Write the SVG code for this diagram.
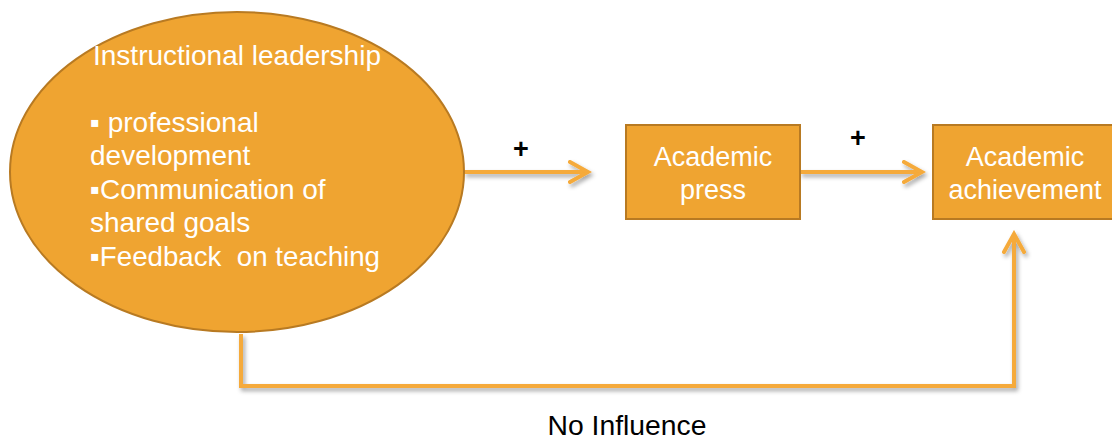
<svg xmlns="http://www.w3.org/2000/svg" width="1112" height="440" viewBox="0 0 1112 440">
  <style>
    .node { fill: #EFA431; stroke: #B87A22; stroke-width: 2; }
    .lbl { font-family: "Liberation Sans", Arial, sans-serif; fill: #FFFFFF; font-size: 27px; white-space: pre; }
    .big { font-size: 28px; }
    .wire { fill: none; stroke: #F5AA3A; stroke-width: 4; stroke-linejoin: miter; }
    .sign { font-family: "Liberation Sans", Arial, sans-serif; font-weight: bold; font-size: 27px; fill: #000; }
    .cap { font-family: "Liberation Sans", Arial, sans-serif; font-size: 27px; fill: #000; }
  </style>
  <defs>
    <marker id="head" viewBox="0 0 12 12" refX="10" refY="6" markerWidth="6" markerHeight="6" markerUnits="strokeWidth" orient="auto">
      <path d="M1,1 L10,6 L1,11" fill="none" stroke="#F5AA3A" stroke-width="2" stroke-linecap="round"/>
    </marker>
    <filter id="shadow" x="-10%" y="-50%" width="120%" height="200%">
      <feDropShadow dx="2" dy="3" stdDeviation="2" flood-color="#000" flood-opacity="0.35"/>
    </filter>
  </defs>

  <g id="connectors" filter="url(#shadow)">
    <path class="wire" d="M464,172 L588,172" marker-end="url(#head)"/>
    <path class="wire" d="M800,172 L922,172" marker-end="url(#head)"/>
    <path class="wire" d="M241,334 L241,386 L1014,386 L1014,234" marker-end="url(#head)"/>
  </g>

  <g id="instructional-leadership">
    <ellipse class="node" cx="237" cy="172" rx="227" ry="160"/>
    <text class="lbl big" x="93" y="65" textLength="288" lengthAdjust="spacingAndGlyphs">Instructional leadership</text>
    <text class="lbl big" x="90" y="132">▪ professional</text>
    <text class="lbl big" x="90" y="165">development</text>
    <text class="lbl big" x="90" y="199">▪Communication of</text>
    <text class="lbl big" x="90" y="232">shared goals</text>
    <text class="lbl big" x="90" y="266" textLength="290" lengthAdjust="spacingAndGlyphs">▪Feedback  on teaching</text>
  </g>

  <g id="academic-press">
    <rect class="node" x="626" y="125" width="174" height="94"/>
    <text class="lbl" x="713" y="166" text-anchor="middle">Academic</text>
    <text class="lbl" x="713" y="199" text-anchor="middle">press</text>
  </g>

  <g id="academic-achievement">
    <rect class="node" x="933" y="125" width="180" height="94"/>
    <text class="lbl" x="1025" y="166" text-anchor="middle">Academic</text>
    <text class="lbl" x="1025" y="199" text-anchor="middle">achievement</text>
  </g>

  <g id="labels">
    <text class="sign" x="521" y="158" text-anchor="middle">+</text>
    <text class="sign" x="858" y="147" text-anchor="middle">+</text>
    <text class="cap" x="627" y="435" text-anchor="middle" textLength="159" lengthAdjust="spacingAndGlyphs">No Influence</text>
  </g>
</svg>
